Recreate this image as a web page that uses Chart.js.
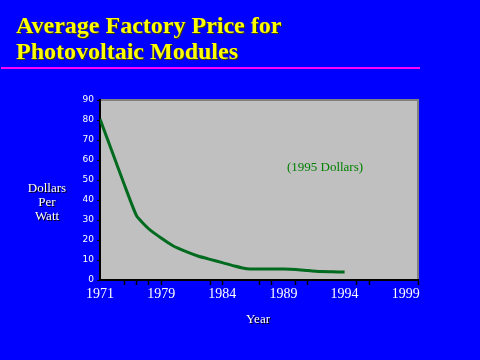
<!DOCTYPE html>
<html>
<head>
<meta charset="utf-8">
<script src="https://cdn.jsdelivr.net/npm/chart.js@4/dist/chart.umd.min.js"></script>
<style>
  html, body { margin: 0; padding: 0; background: #0000ff; }
  #wrap { position: relative; width: 480px; height: 360px; }
</style>
</head>
<body>
<div id="wrap"><canvas id="priceChart" width="480" height="360"></canvas></div>
<script>
// Datos: índice de la categoría en el eje X y precio (dólares de 1995 por vatio)
const positions = [0, 1, 2, 3, 4, 5, 6, 7, 8, 9, 10, 11, 12, 13, 14, 15, 16, 17, 18, 19, 20];
const prices = [80.5, 64, 47.5, 32, 25.5, 21, 17, 14.3, 12, 10.3, 8.7, 7, 5.6, 5.5, 5.5, 5.5, 5.3, 4.7, 4.2, 4.1, 4];
// Etiquetas del eje X (cada 5 posiciones)
const yearLabels = ['1971', '1979', '1984', '1989', '1994', '1999'];
const labelEvery = 5;
// Posiciones con marca de tick en el eje X
const xTickMarks = [2, 3, 4, 5, 9, 10, 13, 14, 16, 17, 21, 22, 26];
const yTicks = [0, 10, 20, 30, 40, 50, 60, 70, 80, 90];

const colors = {
    page: '#0000ff',
    plot: '#c0c0c0',
    line: '#006a1e',
    title: '#ffff00',
    rule: '#ff00ff',
    text: '#ffffff',
    note: '#008000'
};

const serif = "'Liberation Serif', 'Times New Roman', serif";

// Fondo del área de trazado y textos extra
const decorPlugin = {
    id: 'decor',
    beforeDraw(chart) {
        const { ctx, chartArea: a } = chart;
        ctx.save();
        ctx.fillStyle = colors.page;
        ctx.fillRect(0, 0, chart.width, chart.height);
        ctx.fillStyle = colors.plot;
        ctx.fillRect(a.left, a.top, a.right - a.left, a.bottom - a.top);
        // borde superior y derecho
        ctx.strokeStyle = '#808080';
        ctx.lineWidth = 2;
        ctx.beginPath();
        ctx.moveTo(a.left, a.top);
        ctx.lineTo(a.right, a.top);
        ctx.lineTo(a.right, a.bottom);
        ctx.stroke();
        ctx.restore();
    },
    afterDraw(chart) {
        const { ctx } = chart;
        ctx.save();
        // título
        ctx.font = 'bold 24px ' + serif;
        ctx.textBaseline = 'alphabetic';
        ctx.textAlign = 'left';
        ['Average Factory Price for', 'Photovoltaic Modules'].forEach((t, i) => {
            ctx.fillStyle = '#404000';
            ctx.fillText(t, 17, 34 + i * 26);
            ctx.fillStyle = colors.title;
            ctx.fillText(t, 16, 33 + i * 26);
        });
        // línea magenta
        ctx.fillStyle = colors.rule;
        ctx.fillRect(1, 67, 419, 2);

        // etiqueta del eje Y
        ctx.font = '13px ' + serif;
        ctx.textAlign = 'center';
        ctx.textBaseline = 'middle';
        ['Dollars', 'Per', 'Watt'].forEach((t, i) => {
            ctx.fillStyle = '#000000';
            ctx.fillText(t, 48, 190 + i * 14);
            ctx.fillStyle = colors.text;
            ctx.fillText(t, 47, 189 + i * 14);
        });
        // etiqueta del eje X
        ctx.fillStyle = '#000000';
        ctx.fillText('Year', 259, 321);
        ctx.fillStyle = colors.text;
        ctx.fillText('Year', 258, 320);

        // nota
        ctx.fillStyle = colors.note;
        ctx.fillText('(1995 Dollars)', 325, 168);
        ctx.restore();
    }
};

const ctx = document.getElementById('priceChart').getContext('2d');
new Chart(ctx, {
    type: 'line',
    data: {
        datasets: [{
            data: positions.map((p, i) => ({ x: p, y: prices[i] })),
            borderColor: colors.line,
            borderWidth: 3,
            pointRadius: 0,
            tension: 0.15,
            fill: false
        }]
    },
    options: {
        responsive: false,
        animation: false,
        layout: { padding: { left: 0, right: 62, top: 100, bottom: 0 } },
        plugins: {
            legend: { display: false },
            tooltip: { enabled: false }
        },
        scales: {
            x: {
                type: 'linear',
                min: 0,
                max: 26,
                afterFit: scale => { scale.height = 80; },
                afterBuildTicks: scale => {
                    const ticks = [];
                    for (let k = 0; k <= 26; k++) ticks.push({ value: k });
                    scale.ticks = ticks;
                },
                border: { color: '#000000', width: 2 },
                grid: {
                    drawOnChartArea: false,
                    tickLength: 5,
                    tickWidth: 1.5,
                    tickColor: c => xTickMarks.includes(c.tick && c.tick.value) ? '#000000' : 'rgba(0,0,0,0)'
                },
                ticks: {
                    autoSkip: false,
                    maxRotation: 0,
                    padding: 1,
                    color: colors.text,
                    font: { family: serif, size: 14 },
                    callback: v => (v % labelEvery === 0 ? yearLabels[v / labelEvery] || '' : '')
                }
            },
            y: {
                min: 0,
                max: 90,
                afterFit: scale => { scale.width = 100; },
                afterBuildTicks: scale => {
                    scale.ticks = yTicks.map(v => ({ value: v }));
                },
                border: { color: '#000000', width: 2 },
                grid: {
                    drawOnChartArea: false,
                    tickLength: 3,
                    tickColor: '#000000'
                },
                ticks: {
                    color: colors.text,
                    padding: 3,
                    font: { family: "'DejaVu Sans', sans-serif", size: 9 }
                }
            }
        }
    },
    plugins: [decorPlugin]
});
</script>
</body>
</html>
